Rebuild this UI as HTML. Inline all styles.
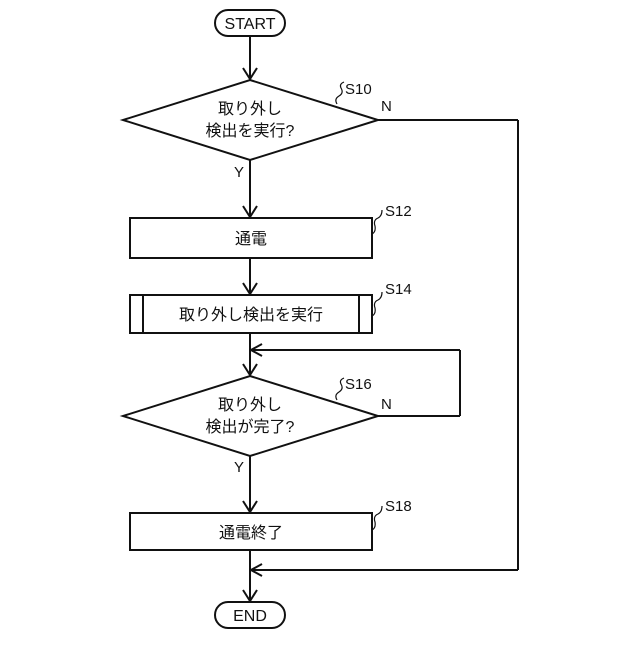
<!DOCTYPE html>
<html><head><meta charset="utf-8"><style>body{margin:0;background:#fff}</style></head><body>
<svg width="640" height="640" viewBox="0 0 640 640" xmlns="http://www.w3.org/2000/svg" font-family="'Liberation Sans','Noto Sans CJK JP',sans-serif" fill="none" stroke="#111" stroke-width="2">
<rect x="215" y="10" width="70" height="26" rx="13"/>
<text x="250" y="29" font-size="16" text-anchor="middle" fill="#111" stroke="none">START</text>
<line x1="250" y1="36" x2="250" y2="79"/>
<path d="M243 68 L250 79 L257 68"/>
<polygon points="250,80 378,120 250,160 123,120"/>
<text x="250" y="114" font-size="16" text-anchor="middle" fill="#111" stroke="none">取り外し</text>
<text x="250" y="136" font-size="16" text-anchor="middle" fill="#111" stroke="none">検出を実行?</text>
<path d="M337 104 q-3 -5 2 -8 q5 -3 2 -8 q-2 -4 3 -6" stroke-width="1.2"/>
<text x="345" y="94" font-size="15" fill="#111" stroke="none">S10</text>
<text x="381" y="111" font-size="15" fill="#111" stroke="none">N</text>
<text x="234" y="177" font-size="15" fill="#111" stroke="none">Y</text>
<line x1="378" y1="120" x2="518" y2="120"/>
<line x1="518" y1="120" x2="518" y2="570"/>
<line x1="518" y1="570" x2="251" y2="570"/>
<path d="M262 564 L251 570 L262 576"/>
<line x1="250" y1="160" x2="250" y2="217"/>
<path d="M243 206 L250 217 L257 206"/>
<rect x="130" y="218" width="242" height="40"/>
<text x="251" y="244" font-size="16" text-anchor="middle" fill="#111" stroke="none">通電</text>
<path d="M372 234 q4 -2 3 -8 q-2 -6 3 -8 q4 -2 4 -8" stroke-width="1.2"/>
<text x="385" y="216" font-size="15" fill="#111" stroke="none">S12</text>
<line x1="250" y1="258" x2="250" y2="294"/>
<path d="M243 283 L250 294 L257 283"/>
<rect x="130" y="295" width="242" height="38"/>
<line x1="143" y1="295" x2="143" y2="333"/><line x1="359" y1="295" x2="359" y2="333"/>
<text x="251" y="320" font-size="16" text-anchor="middle" fill="#111" stroke="none">取り外し検出を実行</text>
<path d="M372 316 q4 -2 3 -8 q-2 -6 3 -8 q4 -2 4 -8" stroke-width="1.2"/>
<text x="385" y="294" font-size="15" fill="#111" stroke="none">S14</text>
<line x1="250" y1="333" x2="250" y2="375"/>
<path d="M243 364 L250 375 L257 364"/>
<line x1="378" y1="416" x2="460" y2="416"/>
<line x1="460" y1="416" x2="460" y2="350"/>
<line x1="460" y1="350" x2="251" y2="350"/>
<path d="M262 344 L251 350 L262 356"/>
<polygon points="250,376 378,416 250,456 123,416"/>
<text x="250" y="410" font-size="16" text-anchor="middle" fill="#111" stroke="none">取り外し</text>
<text x="250" y="432" font-size="16" text-anchor="middle" fill="#111" stroke="none">検出が完了?</text>
<path d="M337 400 q-3 -5 2 -8 q5 -3 2 -8 q-2 -4 3 -6" stroke-width="1.2"/>
<text x="345" y="389" font-size="15" fill="#111" stroke="none">S16</text>
<text x="381" y="409" font-size="15" fill="#111" stroke="none">N</text>
<text x="234" y="472" font-size="15" fill="#111" stroke="none">Y</text>
<line x1="250" y1="456" x2="250" y2="512"/>
<path d="M243 501 L250 512 L257 501"/>
<rect x="130" y="513" width="242" height="37"/>
<text x="251" y="538" font-size="16" text-anchor="middle" fill="#111" stroke="none">通電終了</text>
<path d="M372 530 q4 -2 3 -8 q-2 -6 3 -8 q4 -2 4 -8" stroke-width="1.2"/>
<text x="385" y="511" font-size="15" fill="#111" stroke="none">S18</text>
<line x1="250" y1="550" x2="250" y2="601"/>
<path d="M243 590 L250 601 L257 590"/>
<rect x="215" y="602" width="70" height="26" rx="13"/>
<text x="250" y="621" font-size="16" text-anchor="middle" fill="#111" stroke="none">END</text>
</svg>
</body></html>
